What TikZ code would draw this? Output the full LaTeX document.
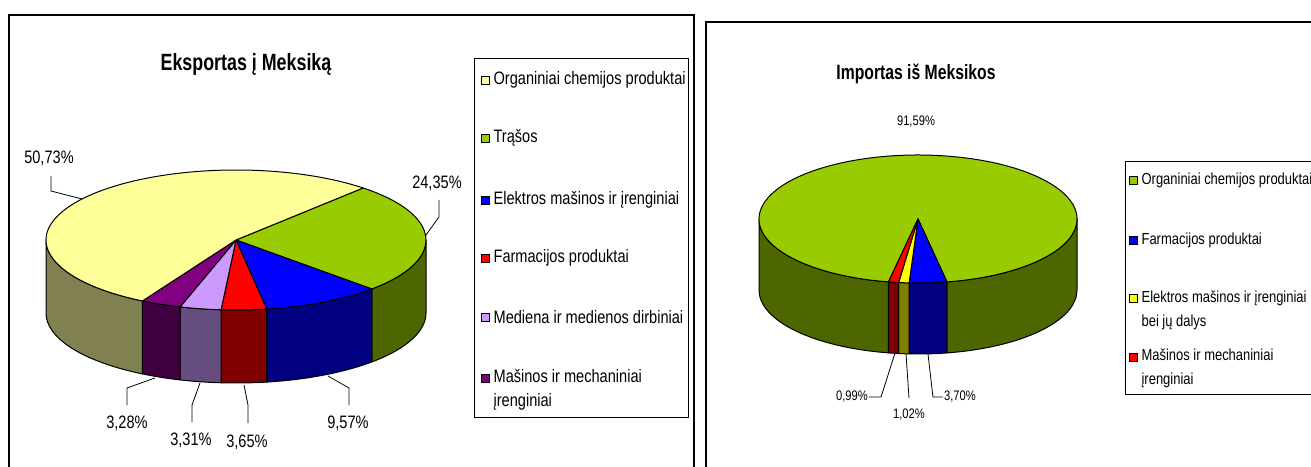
\documentclass[tikz,border=0pt]{standalone}
\usepackage{fontspec}
\setmainfont{Liberation Sans}[FakeStretch=0.81]
\newfontfamily\titlefont{Liberation Sans}[FakeStretch=0.76]
\usetikzlibrary{positioning}

\definecolor{cOrg}{HTML}{FFFF99}
\definecolor{cOrgD}{HTML}{808050}
\definecolor{cTras}{HTML}{99CC00}
\definecolor{cTrasD}{HTML}{4D6600}
\definecolor{cElek}{HTML}{0000FF}
\definecolor{cElekD}{HTML}{000080}
\definecolor{cFarm}{HTML}{FF0000}
\definecolor{cFarmD}{HTML}{800000}
\definecolor{cMed}{HTML}{CC99FF}
\definecolor{cMedD}{HTML}{664D80}
\definecolor{cMas}{HTML}{800080}
\definecolor{cMasD}{HTML}{400040}
\definecolor{cGelt}{HTML}{FFFF00}
\definecolor{cGeltD}{HTML}{808000}

\begin{document}
\begin{tikzpicture}[x=1pt,y=1pt,every node/.style={inner sep=0pt},
  slice/.style={draw=black, line width=1pt, line join=round},
  leader/.style={draw=black, line width=0.8pt},
  legkey/.style={draw=black, line width=0.8pt, minimum size=8pt},
  legtext/.style={anchor=west, align=left, font=\fontsize{18}{24}\selectfont},
  legtextb/.style={anchor=west, align=left, font=\fontsize{16}{24}\selectfont},
  pct/.style={font=\fontsize{18}{20}\selectfont},
  pctb/.style={font=\fontsize{13.8}{16}\selectfont},
  title/.style={font=\titlefont\bfseries\fontsize{23.5}{28}\selectfont},
  titleb/.style={font=\titlefont\bfseries\fontsize{20.7}{24}\selectfont}]
	\path[use as bounding box, fill=white] (0,0) rectangle (1311,466);
	\clip (0,0) rectangle (1311,466);

	% frames
	\draw[line width=1.5pt] (9,-10) rectangle (694,451);
	\draw[line width=1.5pt] (706,-10) rectangle (1330,444);

	% export pie
	\coordinate (c1) at (236,226);
	\foreach \a/\b/\c in {0/-44.4/cTrasD, -44.4/-80.7/cElekD, -80.7/-94.5/cFarmD, -94.5/-107.1/cMedD, -107.1/-119.5/cMasD, -119.5/-180/cOrgD}
		\filldraw[slice, fill=\c] ([shift={(c1)}]\a:190 and 70) arc[start angle=\a, end angle=\b, x radius=190, y radius=70] -- ++(0,-73) arc[start angle=\b, end angle=\a, x radius=190, y radius=70] -- cycle;
	\foreach \a/\b/\c in {48/-44.4/cTras, -44.4/-80.7/cElek, -80.7/-94.5/cFarm, -94.5/-107.1/cMed, -107.1/-119.5/cMas, -119.5/-312/cOrg}
		\filldraw[slice, fill=\c] (c1) -- ([shift={(c1)}]\a:190 and 70) arc[start angle=\a, end angle=\b, x radius=190, y radius=70] -- cycle;

	% import pie
	\coordinate (c2) at (918,247);
	\foreach \a/\b/\c in {0/-79.5/cTrasD, -79.5/-93.2/cElekD, -93.2/-97/cGeltD, -97/-100.7/cFarmD, -100.7/-180/cTrasD}
		\filldraw[slice, fill=\c] ([shift={(c2)}]\a:159 and 64) arc[start angle=\a, end angle=\b, x radius=159, y radius=64] -- ++(0,-71) arc[start angle=\b, end angle=\a, x radius=159, y radius=64] -- cycle;
	\foreach \a/\b/\c in {259.3/-79.5/cTras, -79.5/-93.2/cElek, -93.2/-97/cGelt, -97/-100.7/cFarm}
		\filldraw[slice, fill=\c] (c2) -- ([shift={(c2)}]\a:159 and 64) arc[start angle=\a, end angle=\b, x radius=159, y radius=64] -- cycle;

	% create the nodes
	\node (t1)[title] at (246,402) {Eksportas į Meksiką};
	\node (t2)[titleb] at (916,392) {Importas iš Meksikos};

	\node (p1)[pct] at (49,308) {50,73\%};
	\node (p2)[pct] at (437,283) {24,35\%};
	\node (p3)[pct] at (348,43) {9,57\%};
	\node (p4)[pct] at (247,24) {3,65\%};
	\node (p5)[pct] at (191,26) {3,31\%};
	\node (p6)[pct] at (127,43) {3,28\%};
	\coordinate (e1) at (82,267);
	\coordinate (e2) at (426,231);
	\coordinate (e3) at (328,90);
	\coordinate (e4) at (244,81);
	\coordinate (e5) at (200,83);
	\coordinate (e6) at (155,88);

	\node (q1)[pctb] at (916,344) {91,59\%};
	\node (q2)[pctb] at (960,69) {3,70\%};
	\node (q3)[pctb] at (909,51) {1,02\%};
	\node (q4)[pctb] at (852,69) {0,99\%};
	\coordinate (f2) at (928,112);
	\coordinate (f3) at (906,112);
	\coordinate (f4) at (895,113);

	\node (leg1)[draw, line width=1pt, minimum width=214pt, minimum height=358pt] at (581,228) {};
	\node (lk1)[legkey, fill=cOrg] at (485,386) {};
	\node (lt1)[legtext, right=4pt of lk1] {Organiniai chemijos produktai};
	\node (lk2)[legkey, fill=cTras] at (485,328) {};
	\node (lt2)[legtext, right=4pt of lk2] {Trąšos};
	\node (lk3)[legkey, fill=cElek] at (485,266) {};
	\node (lt3)[legtext, right=4pt of lk3] {Elektros mašinos ir įrenginiai};
	\node (lk4)[legkey, fill=cFarm] at (485,208) {};
	\node (lt4)[legtext, right=4pt of lk4] {Farmacijos produktai};
	\node (lk5)[legkey, fill=cMed] at (485,149) {};
	\node (lt5)[legtext, right=4pt of lk5] {Mediena ir medienos dirbiniai};
	\node (lk6)[legkey, fill=cMas] at (485,88) {};
	\node (lt6)[legtext, right=4pt of lk6, yshift=-12pt] {Mašinos ir mechaniniai\\įrenginiai};

	\node (leg2)[draw, line width=1pt, minimum width=205pt, minimum height=233pt, anchor=south west] at (1125,71) {};
	\node (mk1)[legkey, fill=cTras] at (1133,286) {};
	\node (mt1)[legtextb, right=4pt of mk1] {Organiniai chemijos produktai};
	\node (mk2)[legkey, fill=cElek] at (1133,226) {};
	\node (mt2)[legtextb, right=4pt of mk2] {Farmacijos produktai};
	\node (mk3)[legkey, fill=cGelt] at (1133,168) {};
	\node (mt3)[legtextb, right=4pt of mk3, yshift=-12pt] {Elektros mašinos ir įrenginiai\\bei jų dalys};
	\node (mk4)[legkey, fill=cFarm] at (1133,109) {};
	\node (mt4)[legtextb, right=4pt of mk4, yshift=-11pt] {Mašinos ir mechaniniai\\įrenginiai};

	% connect the nodes
	\draw[leader] ([xshift=2pt,yshift=-18pt]p1.center) -- ++(0,-15) -- (e1);
	\draw[leader] ([xshift=2pt,yshift=-17pt]p2.center) -- ++(0,-17) -- (e2);
	\draw[leader] ([xshift=1pt,yshift=18pt]p3.center) -- ++(0,17) -- (e3);
	\draw[leader] ([xshift=1pt,yshift=19pt]p4.center) -- ++(0,18) -- (e4);
	\draw[leader] ([xshift=1pt,yshift=18pt]p5.center) -- ++(0,17) -- (e5);
	\draw[leader] ([yshift=18pt]p6.center) -- ++(0,17) -- (e6);
	\draw[leader] ([xshift=-1pt]q2.west) -- ++(-10,0) -- (f2);
	\draw[leader] ([yshift=17pt]q3.center) -- (f3);
	\draw[leader] ([xshift=1pt]q4.east) -- ++(12,0) -- (f4);

\end{tikzpicture}
\end{document}
